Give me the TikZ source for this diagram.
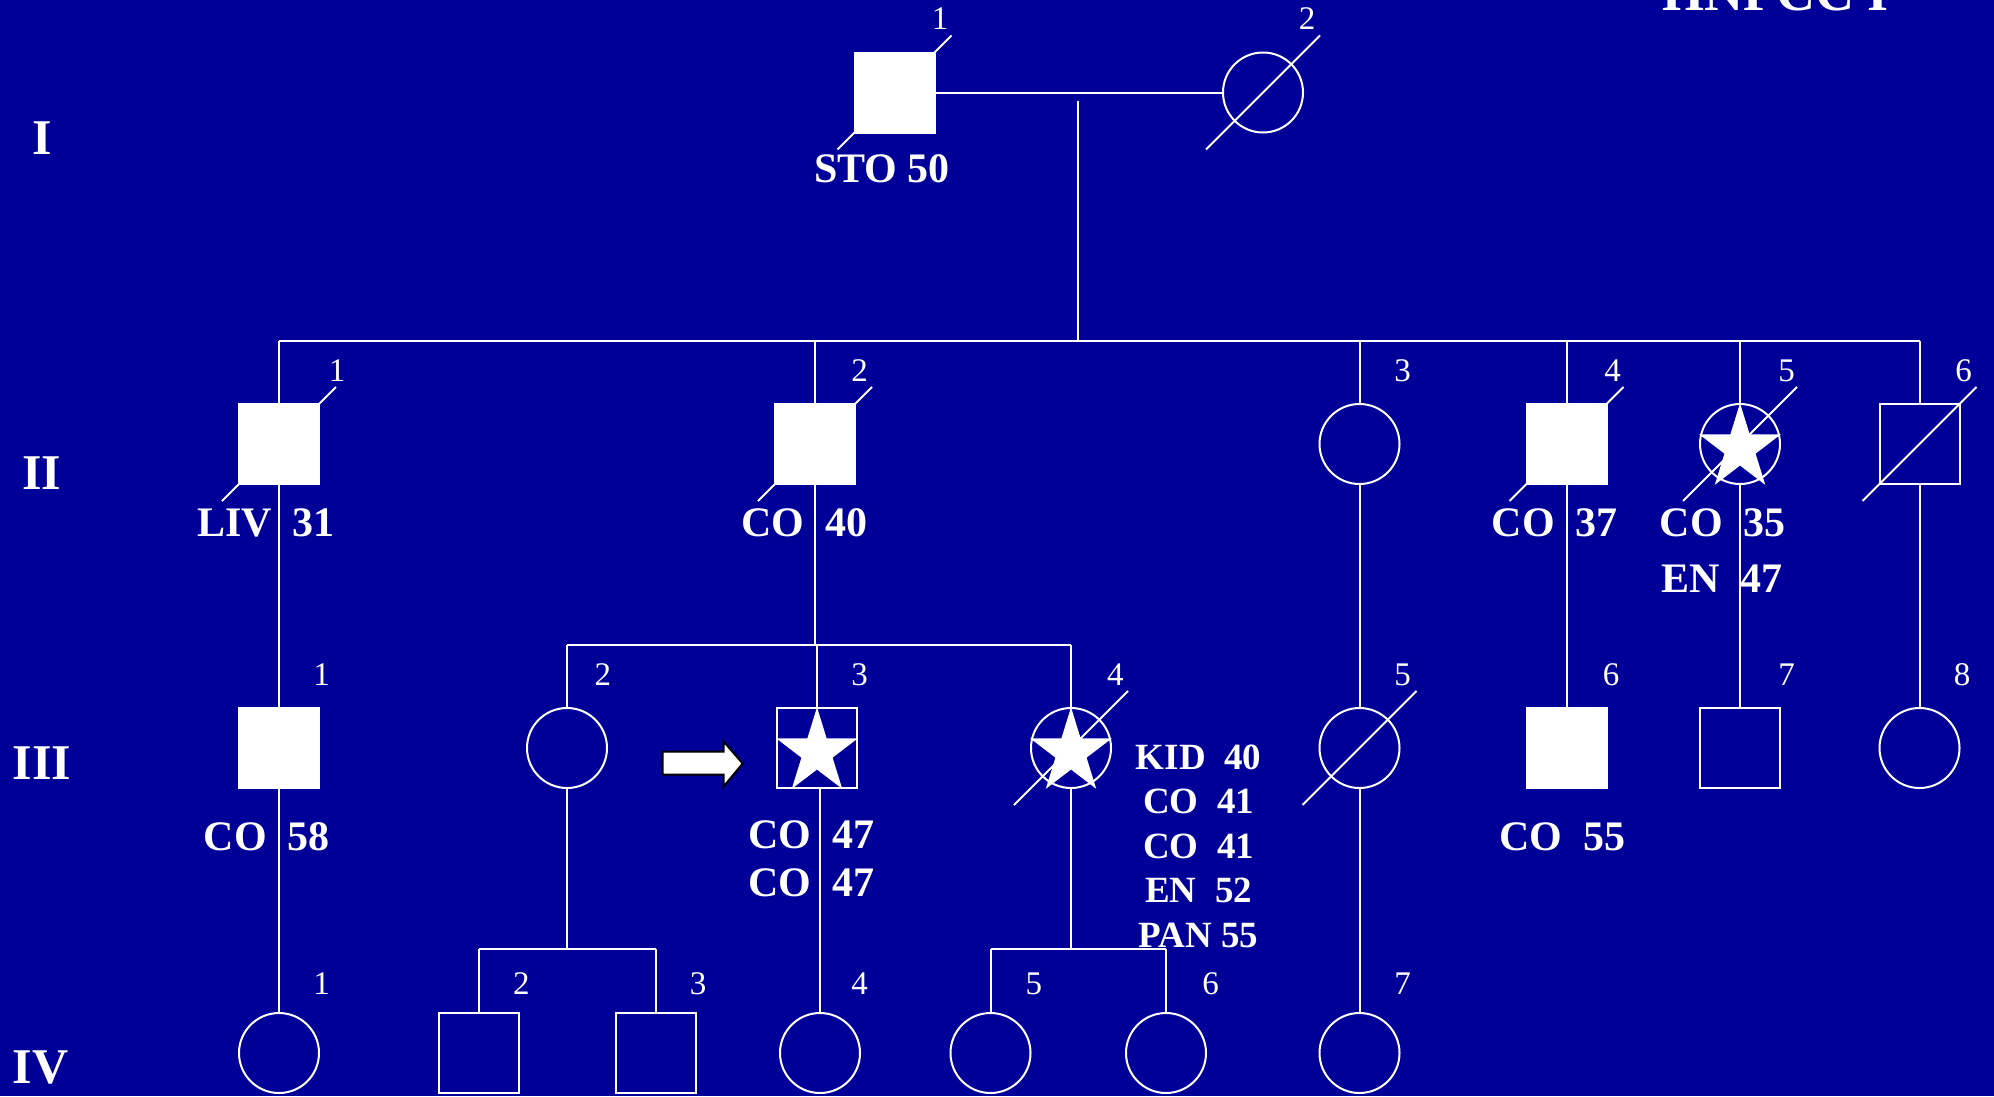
\documentclass[tikz,border=0pt]{standalone}
\usepackage{fontspec}
\setmainfont{Liberation Serif}
\definecolor{bg}{RGB}{0,0,153}
\tikzset{
  sym/.style={draw=white, line width=2pt, inner sep=0pt, minimum size=80pt},
  sq/.style={sym, rectangle},
  ci/.style={sym, circle},
  aff/.style={fill=white},
  ln/.style={draw=white, line width=2pt},
  num/.style={text=white, font=\fontsize{33}{33}\selectfont, inner sep=0pt},
  lab/.style={text=white, font=\bfseries\fontsize{42}{42}\selectfont, inner sep=0pt, anchor=base west},
  lst/.style={text=white, font=\bfseries\fontsize{37}{37}\selectfont, inner sep=0pt, anchor=base},
  gen/.style={text=white, font=\bfseries\fontsize{50}{50}\selectfont, inner sep=0pt, anchor=base},
  deadmark/.pic={\draw[ln] (-57,57) -- (57,-57);},
  starmark/.pic={\fill[white, shift={(0,4.3)}, xscale=42.9, yscale=-45.1]
     (90:1) -- (126:0.382) -- (162:1) -- (198:0.382) -- (234:1) -- (270:0.382)
     -- (306:1) -- (342:0.382) -- (18:1) -- (54:0.382) -- cycle;}
}
\begin{document}
\begin{tikzpicture}[x=1pt,y=-1pt]
\useasboundingbox (0,0) rectangle (1994,1096);
\clip (0,0) rectangle (1994,1096);
\fill[bg] (0,0) rectangle (1994,1096);

% positions
\coordinate (pI1) at (894.5,92.5);
\coordinate (pI2) at (1263,92.5);
\coordinate (pII1) at (279,444);
\coordinate (pII2) at (815,444);
\coordinate (pII3) at (1359.5,444);
\coordinate (pII4) at (1566.5,444);
\coordinate (pII5) at (1740,444);
\coordinate (pII6) at (1919.5,444);
\coordinate (pIII1) at (279,748);
\coordinate (pIII2) at (567,748);
\coordinate (pIII3) at (817,748);
\coordinate (pIII4) at (1071,748);
\coordinate (pIII5) at (1359.5,748);
\coordinate (pIII6) at (1566.5,748);
\coordinate (pIII7) at (1740,748);
\coordinate (pIII8) at (1919.5,748);
\coordinate (pIV1) at (279,1053);
\coordinate (pIV2) at (479,1053);
\coordinate (pIV3) at (655.5,1053);
\coordinate (pIV4) at (820,1053);
\coordinate (pIV5) at (990.5,1053);
\coordinate (pIV6) at (1166,1053);
\coordinate (pIV7) at (1359.5,1053);

% deceased marks under filled squares
\foreach \p in {pI1,pII1,pII2,pII4} \pic at (\p) {deadmark};

% symbols
\node[sq,aff] (I1) at (pI1) {};
\node[ci] (I2) at (pI2) {};
\node[sq,aff] (II1) at (pII1) {};
\node[sq,aff] (II2) at (pII2) {};
\node[ci] (II3) at (pII3) {};
\node[sq,aff] (II4) at (pII4) {};
\node[ci] (II5) at (pII5) {};
\node[sq] (II6) at (pII6) {};
\node[sq,aff] (III1) at (pIII1) {};
\node[ci] (III2) at (pIII2) {};
\node[sq] (III3) at (pIII3) {};
\node[ci] (III4) at (pIII4) {};
\node[ci] (III5) at (pIII5) {};
\node[sq,aff] (III6) at (pIII6) {};
\node[sq] (III7) at (pIII7) {};
\node[ci] (III8) at (pIII8) {};
\node[ci] (IV1) at (pIV1) {};
\node[sq] (IV2) at (pIV2) {};
\node[sq] (IV3) at (pIV3) {};
\node[ci] (IV4) at (pIV4) {};
\node[ci] (IV5) at (pIV5) {};
\node[ci] (IV6) at (pIV6) {};
\node[ci] (IV7) at (pIV7) {};

% stars
\pic at (pII5) {starmark};
\pic at (pIII3) {starmark};
\pic at (pIII4) {starmark};

% deceased marks over open symbols
\foreach \p in {pI2,pII5,pII6,pIII4,pIII5} \pic at (\p) {deadmark};

% connectors
\draw[ln] (I1.east) -- (I2.west);
\coordinate (dtop) at (1078,100.5);
\coordinate (sib1) at (1078,341);
\draw[ln] (dtop) -- (sib1);
\draw[ln] (II1.north |- sib1) -- (II6.north |- sib1);
\foreach \n in {II1,II2,II3,II4,II5,II6} \draw[ln] (\n.north) -- (\n.north |- sib1);

\draw[ln] (II1.south) -- (III1.north);
\coordinate (sib2) at (815,645);
\draw[ln] (II2.south) -- (II2.south |- sib2);
\draw[ln] (III2.north |- sib2) -- (III4.north |- sib2);
\foreach \n in {III2,III3,III4} \draw[ln] (\n.north) -- (\n.north |- sib2);
\draw[ln] (II3.south) -- (III5.north);
\draw[ln] (II4.south) -- (III6.north);
\draw[ln] (II5.south) -- (III7.north);
\draw[ln] (II6.south) -- (III8.north);

\draw[ln] (III1.south) -- (IV1.north);
\coordinate (sib3) at (567,949);
\draw[ln] (III2.south) -- (III2.south |- sib3);
\draw[ln] (IV2.north |- sib3) -- (IV3.north |- sib3);
\foreach \n in {IV2,IV3} \draw[ln] (\n.north) -- (\n.north |- sib3);
\draw[ln] (IV4.north) -- (IV4.north |- III3.south);
\draw[ln] (III4.south) -- (III4.south |- sib3);
\draw[ln] (IV5.north |- sib3) -- (IV6.north |- sib3);
\foreach \n in {IV5,IV6} \draw[ln] (\n.north) -- (\n.north |- sib3);
\draw[ln] (III5.south) -- (IV7.north);

% proband arrow
\draw[black, line width=2pt, fill=white, line join=miter]
  (662.6,751.6) -- (723.6,751.6) -- (723.6,741.4) -- (742.7,763.5)
  -- (723.6,786.5) -- (723.6,774.5) -- (662.6,774.5) -- cycle;

% individual numbers
\node[num] (nI1) at (940,19) {1};
\node[num] (nI2) at (1307,19) {2};
\node[num] (nII1) at (337,371) {1};
\node[num] (nII2) at (859.7,371) {2};
\node[num] (nII3) at (1402.7,371) {3};
\node[num] (nII4) at (1612.5,371) {4};
\node[num] (nII5) at (1786.7,371) {5};
\node[num] (nII6) at (1963.5,371) {6};
\node[num] (nIII1) at (321.7,675) {1};
\node[num] (nIII2) at (602.8,675) {2};
\node[num] (nIII3) at (859.7,675) {3};
\node[num] (nIII4) at (1115.3,675) {4};
\node[num] (nIII5) at (1402.7,675) {5};
\node[num] (nIII6) at (1611.2,675) {6};
\node[num] (nIII7) at (1786.7,675) {7};
\node[num] (nIII8) at (1962.2,675) {8};
\node[num] (nIV1) at (321.7,984) {1};
\node[num] (nIV2) at (521.4,984) {2};
\node[num] (nIV3) at (698.2,984) {3};
\node[num] (nIV4) at (859.7,984) {4};
\node[num] (nIV5) at (1033.9,984) {5};
\node[num] (nIV6) at (1210.6,984) {6};
\node[num] (nIV7) at (1402.7,984) {7};

% disease labels
\node[lab] (lI1) at (814,182) {STO 50};
\node[lab] (lII1) at (197,536.5) {LIV~~31};
\node[lab] (lII2) at (741.4,536.5) {CO~~40};
\node[lab] (lII4) at (1491.7,536.5) {CO~~37};
\node[lab] (lII5a) at (1659.6,536.5) {CO~~35};
\node[lab] (lII5b) at (1660.8,592.5) {EN~~47};
\node[lab] (lIII1) at (203.5,850.5) {CO~~58};
\node[lab] (lIII3a) at (747.8,848) {CO~~47};
\node[lab] (lIII3b) at (747.8,896.5) {CO~~47};
\node[lab] (lIII6) at (1499.3,850.5) {CO~~55};
\node[lst] (lIII4a) at (1198.6,769.4) {KID~~40};
\node[lst] (lIII4b) at (1198.6,813.9) {CO~~41};
\node[lst] (lIII4c) at (1198.6,858.4) {CO~~41};
\node[lst] (lIII4d) at (1198.6,902.9) {EN~~52};
\node[lst] (lIII4e) at (1198.6,947.4) {PAN 55};

% generation numerals
\node[gen] (gI) at (42,154) {I};
\node[gen] (gII) at (42,489.6) {II};
\node[gen] (gIII) at (42,779.5) {III};
\node[gen] (gIV) at (40.7,1083.5) {IV};

% title (cut off at top, as in the reference)
\node[text=white, font=\bfseries\fontsize{54}{54}\selectfont, inner sep=0pt, anchor=base west] (title) at (1662,10) {HNPCC I};
\end{tikzpicture}
\end{document}
